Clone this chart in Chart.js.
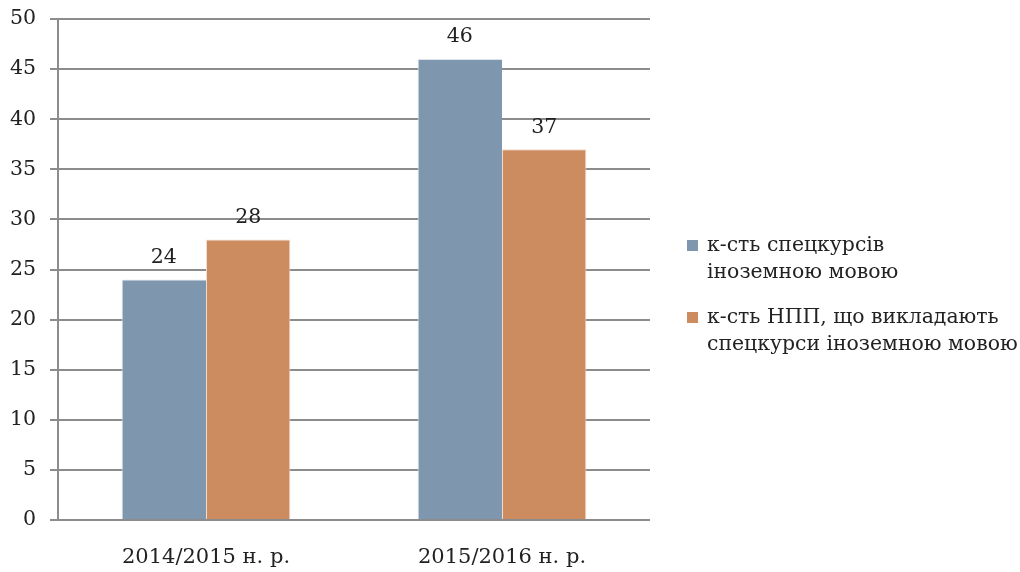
<!DOCTYPE html>
<html>
<head>
<meta charset="utf-8">
<script src="https://cdn.jsdelivr.net/npm/chart.js@4"></script>
<style>
  body { margin: 0; background: #fff; }
  #wrap { position: relative; width: 1020px; height: 572px; }
  #legend { position: absolute; left: 687px; top: 231px; font-family: "DejaVu Serif", serif; font-size: 20.4px; color: #222; line-height: 27px; }
  .item { position: relative; padding-left: 20px; margin-bottom: 18px; white-space: nowrap; }
  .item i { position: absolute; left: 0; top: 9px; width: 11px; height: 11px; }
</style>
</head>
<body>
<div id="wrap">
  <canvas id="courseChart" width="1020" height="572"></canvas>
  <div id="legend"></div>
</div>
<script>
// chart data
var years = ['2014/2015 н. р.', '2015/2016 н. р.'];
var courses = [24, 46];
var teachers = [28, 37];
var seriesNames = [['к-сть спецкурсів', 'іноземною мовою'], ['к-сть НПП, що викладають', 'спецкурси іноземною мовою']];
var colors = ['#7f97ae', '#cd8c5f'];

var font = '"DejaVu Serif", serif';

// numbers above the bars
var barLabels = {
    id: 'barLabels',
    afterDatasetsDraw: function (chart) {
        var ctx = chart.ctx;
        ctx.save();
        ctx.font = '20.5px ' + font;
        ctx.fillStyle = '#222';
        ctx.textAlign = 'center';
        ctx.textBaseline = 'middle';
        chart.data.datasets.forEach(function (ds, i) {
            chart.getDatasetMeta(i).data.forEach(function (bar, j) {
                ctx.fillText(ds.data[j], bar.x, bar.y - 22);
            });
        });
        ctx.restore();
    }
};

var ctx = document.getElementById('courseChart').getContext('2d');
var courseChart = new Chart(ctx, {
    type: 'bar',
    data: {
        labels: years,
        datasets: [{
            label: seriesNames[0].join(' '),
            data: courses,
            backgroundColor: colors[0],
            borderColor: '#dde3ea',
            borderWidth: {left: 1, right: 0, top: 1, bottom: 0}
        }, {
            label: seriesNames[1].join(' '),
            data: teachers,
            backgroundColor: colors[1],
            borderColor: '#f1dccd',
            borderWidth: {left: 1, right: 1, top: 1, bottom: 0}
        }]
    },
    options: {
        responsive: false,
        animation: false,
        layout: { padding: { left: 0, right: 370, top: 19, bottom: 0 } },
        datasets: { bar: { categoryPercentage: 0.57, barPercentage: 1 } },
        plugins: { legend: { display: false }, tooltip: { enabled: false } },
        scales: {
            x: {
                grid: { display: false },
                border: { display: false },
                ticks: { color: '#222', font: { family: font, size: 21 }, padding: 17 },
                afterFit: function (s) { s.height = 52; s.paddingLeft = 0; s.paddingRight = 0; }
            },
            y: {
                min: 0,
                max: 50,
                ticks: { stepSize: 5, color: '#222', font: { family: font, size: 20.5 }, padding: 14 },
                grid: { color: '#8c8c8c', lineWidth: 2, tickLength: 8 },
                border: { color: '#8c8c8c', width: 2 },
                afterFit: function (s) { s.width = 58; s.paddingTop = 0; s.paddingBottom = 0; }
            }
        }
    },
    plugins: [barLabels]
});

// legend on the right
var legend = document.getElementById('legend');
seriesNames.forEach(function (lines, i) {
    var item = document.createElement('div');
    item.className = 'item';
    item.innerHTML = '<i style="background:' + colors[i] + '"></i>' + lines.join('<br>');
    legend.appendChild(item);
});
</script>
</body>
</html>
